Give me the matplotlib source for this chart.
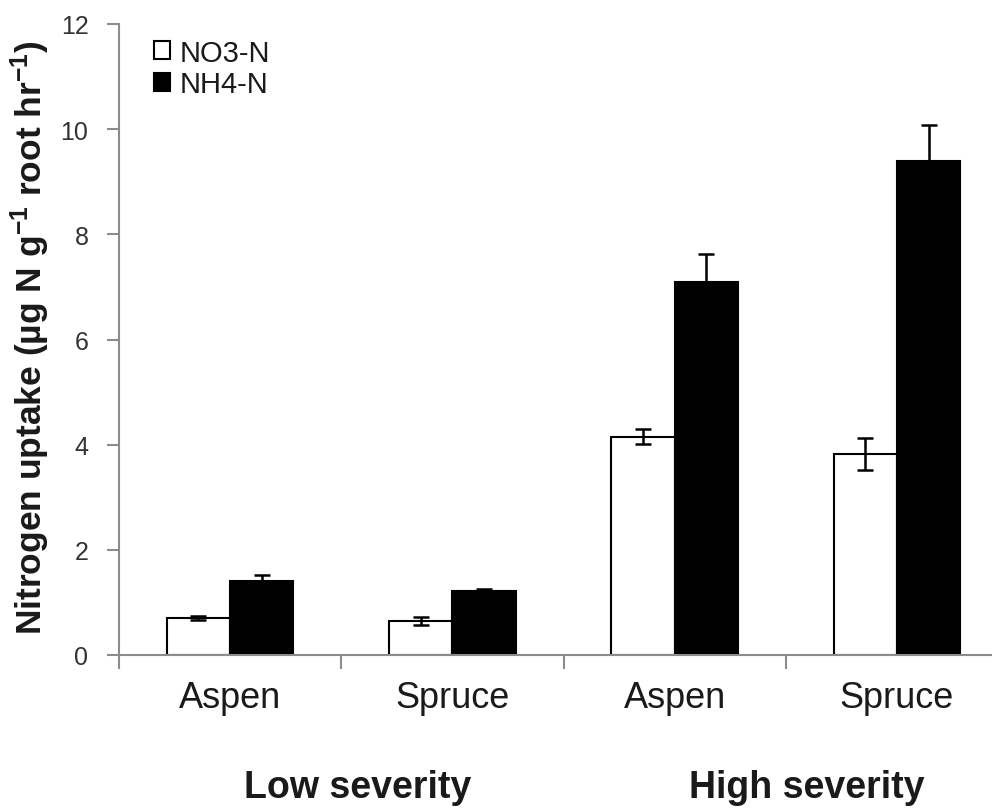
import matplotlib
matplotlib.use("Agg")
import matplotlib.pyplot as plt
import numpy as np

plt.rcParams.update({
    'font.family': ['Liberation Sans', 'DejaVu Sans'],
    'mathtext.fontset': 'custom',
    'mathtext.rm': 'Liberation Sans',
    'mathtext.bf': 'Liberation Sans:bold',
    'mathtext.default': 'bf',
})

# uptake data: species within fire severity class
species = ["Aspen", "Spruce", "Aspen", "Spruce"]
severity = ["Low severity", "High severity"]
no3 = [0.70, 0.65, 4.15, 3.82]
no3_err = [0.04, 0.08, 0.14, 0.30]
nh4 = [1.40, 1.21, 7.10, 9.40]
nh4_err = [0.12, 0.04, 0.53, 0.67]

axis_grey = '#8c8c8c'
text_col = '#1a1a1a'

fig = plt.figure(figsize=(9.92, 8.12), dpi=100)
ax = fig.add_axes([119/992, 1 - 656/812, (1008 - 119)/992, (656 - 25)/812])

x = np.arange(len(species))
w = 0.285
err_kw = dict(ecolor='black', elinewidth=1.8, capsize=5.5, capthick=1.8)
ax.bar(x - w/2, no3, w, yerr=no3_err, color='white', edgecolor='black',
       linewidth=1.5, error_kw=err_kw, label='NO3-N', zorder=2)
ax.bar(x + w/2, nh4, w, yerr=nh4_err, color='black', edgecolor='black',
       linewidth=1.5, error_kw=err_kw, label='NH4-N', zorder=2)

ax.set_xlim(-0.5, 3.5)
ax.set_ylim(0, 12)
ax.set_yticks(np.arange(0, 13, 2))

# category boundaries as ticks, names centred in between
ax.set_xticks(np.arange(-0.5, 3.6, 1.0))
ax.set_xticklabels([])
ax.set_xticks(x, minor=True)
ax.set_xticklabels(species, minor=True, fontsize=26, color=text_col)
ax.tick_params(axis='x', which='major', direction='out', length=10,
               width=1.5, color=axis_grey)
ax.tick_params(axis='x', which='minor', length=0, pad=18)
ax.tick_params(axis='y', direction='out', length=9, width=1.5,
               color=axis_grey, labelsize=18, labelcolor='#333333', pad=13)

for side in ['top', 'right']:
    ax.spines[side].set_visible(False)
for side in ['left', 'bottom']:
    ax.spines[side].set_color(axis_grey)
    ax.spines[side].set_linewidth(1.5)

fig.text(30/992, 1 - 338/812, r'Nitrogen uptake (µg N g$^{-1}$ root hr$^{-1}$)',
         rotation=90, ha='center', va='center', fontsize=25.5,
         fontweight='bold', color=text_col)

fig.text(358/992, 1 - 788/812, severity[0], ha='center', va='center',
         fontsize=27, fontweight='bold', color=text_col)
fig.text(807/992, 1 - 788/812, severity[1], ha='center', va='center',
         fontsize=27, fontweight='bold', color=text_col)

ax.legend(loc='upper left', bbox_to_anchor=(139/992, 1 - 25/812),
          bbox_transform=fig.transFigure, frameon=False, fontsize=21,
          handlelength=0.55, handleheight=0.55, handletextpad=0.35,
          labelspacing=0.12, borderpad=0, labelcolor=text_col)

fig.savefig('out.png', dpi=100)
